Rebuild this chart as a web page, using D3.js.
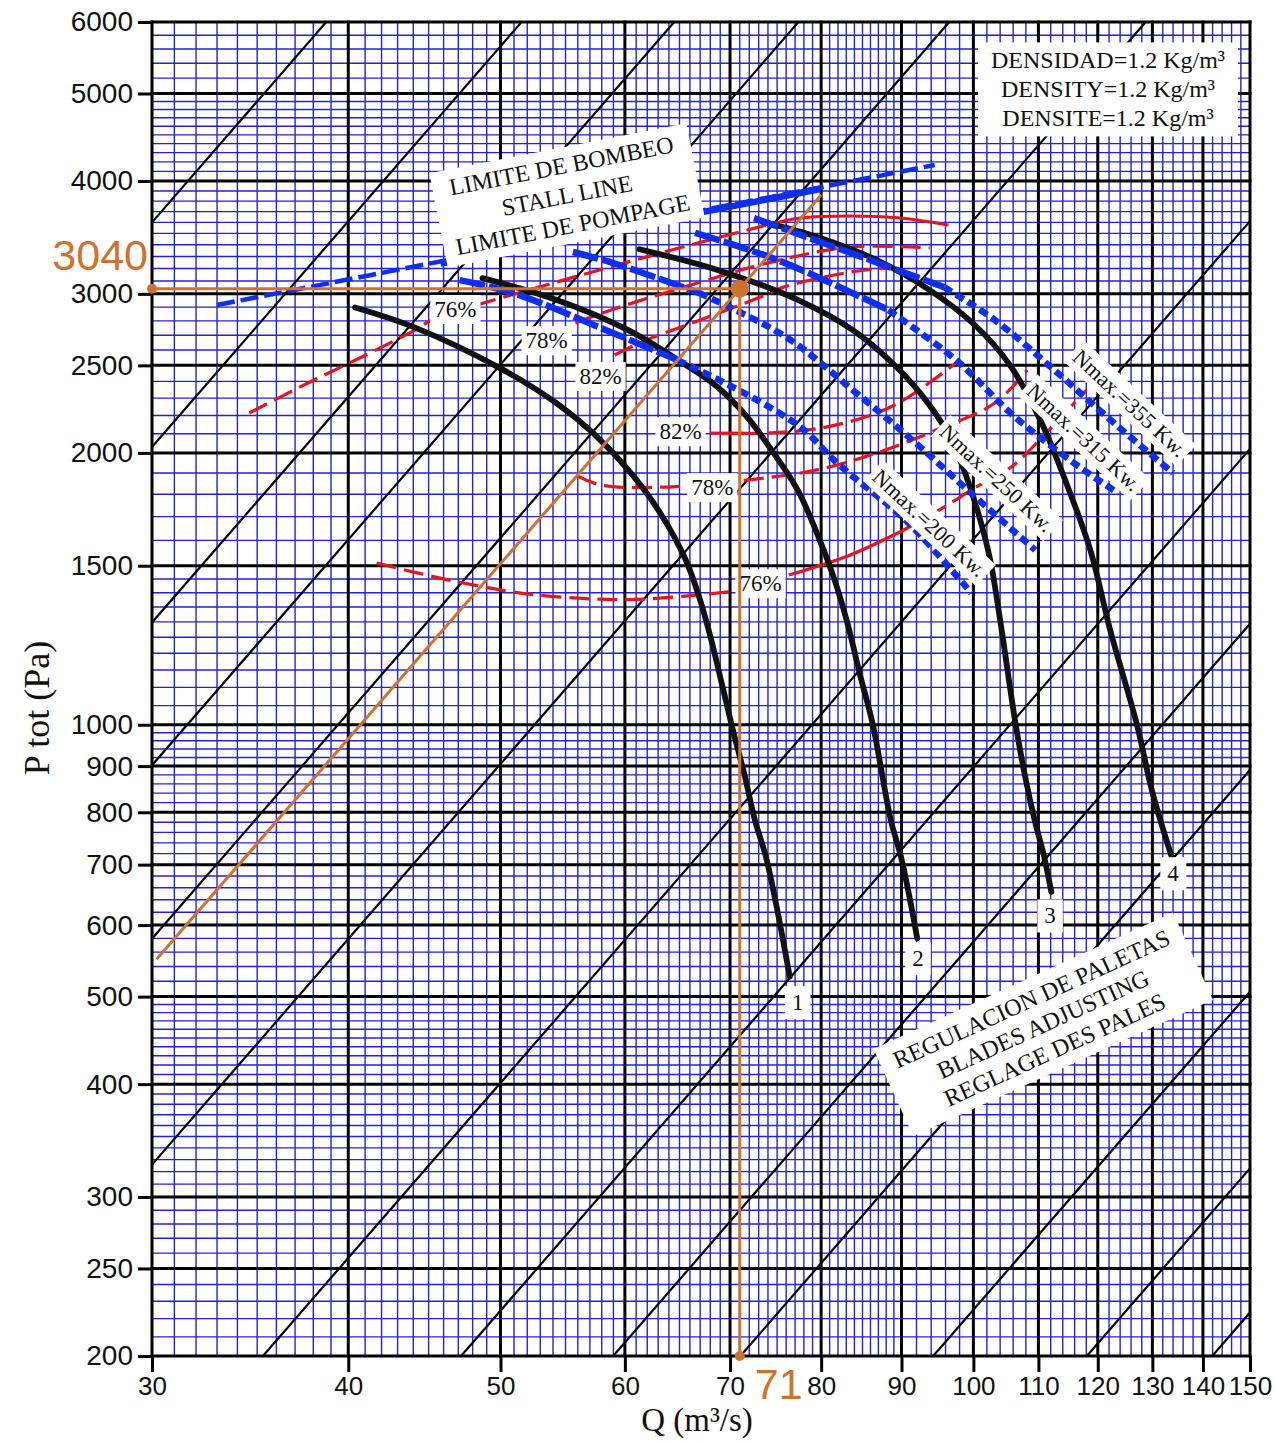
<!DOCTYPE html>
<html><head><meta charset="utf-8">
<script src="https://cdn.jsdelivr.net/npm/d3@7"></script>
<style>
html,body{margin:0;padding:0;background:#fff;}
svg{display:block;}
</style></head><body>
<svg id="chart" width="1275" height="1441"></svg>
<script>
// ---------------- DATA ----------------
const xTicks = [30,40,50,60,70,80,90,100,110,120,130,140,150];
const yTicks = [200,250,300,400,500,600,700,800,900,1000,1500,2000,2500,3000,4000,5000,6000];
const xMinorRanges = [[30,90,1],[90,150,2]];
const yMinorRanges = [[200,500,10],[500,1000,20],[1000,1500,50],[1500,5000,100],[5000,6000,200]];
// system resistance lines P = k * Q^2
const systemK = [4.0,2.256,1.442,1.002,0.644,0.362,0.1605,0.0898,0.0575,0.0396,0.0225,0.01434,0.00993];

// fan curves (blade settings 1..4)  [Q m3/s, P Pa]
const curve1 = [[40.4,2898],[44.0,2758],[50.0,2481],[54.3,2269],[57.3,2102],[60.3,1915],[63.2,1715],[65.6,1522],[67.0,1374],[68.1,1241],[69.2,1106],[70.3,986],[71.5,880],[72.6,784],[73.8,713],[75.0,625],[76.4,526]];
const curve2 = [[48.7,3123],[54.3,2954],[60.3,2735],[65.3,2515],[68.5,2377],[71.6,2203],[74.4,2014],[77.3,1819],[79.6,1622],[81.6,1446],[83.2,1290],[84.7,1135],[86.3,1000],[88.6,784],[89.9,716],[91.1,642],[92.1,580]];
const curve3 = [[61.3,3361],[68.8,3187],[77.3,2954],[83.8,2735],[89.3,2491],[93.6,2269],[96.7,2077],[98.9,1890],[100.8,1707],[102.5,1522],[104.0,1306],[106.4,1000],[108.0,868],[109.4,784],[110.9,716],[112.1,653]];
const curve4 = [[73.4,3604],[79.9,3460],[86.8,3269],[93.8,3029],[100.2,2771],[105.5,2502],[110.3,2175],[114.4,1866],[118.7,1561],[122.2,1273],[127.1,1000],[129.9,846],[133.8,712]];
const curveNames = ["1","2","3","4"];
const curveLabelPos = [[77.3,493],[92.2,551.5],[111.9,615],[134.0,685]];

// max power lines
const n355 = [[72.5,3640],[81.9,3372],[95.8,3052],[103.2,2806],[112.6,2470],[122.9,2158],[134.0,1900]];
const n315 = [[66.5,3504],[75.1,3269],[88.3,2879],[97.5,2534],[106.3,2191],[115.9,1949],[123.6,1805]];
const n250 = [[55.6,3338],[59.0,3245],[66.9,3007],[76.0,2687],[83.8,2347],[91.9,2051],[100.3,1787],[109.5,1561]];
const n200 = [[47.1,3107],[50.9,3007],[59.0,2714],[64.8,2534],[70.3,2365],[77.6,2136],[81.9,1949],[90.9,1673],[99.7,1399]];
const nmaxSplitQ = [95.8,88.3,66.9,64.8];
const nmaxNames = ["Nmax.=355 Kw.","Nmax.=315 Kw.","Nmax.=250 Kw.","Nmax.=200 Kw."];
const nmaxLabelPos = [[125.8,2271],[117.6,2082],[103.5,1876],[93.8,1673]];

// stall line
const stallDashed = [[33.0,2916],[94.5,4167]];
const stallSolid = [[45.8,3240],[79.9,3920]];

// efficiency curves
const eff76Upper = [[34.6,2214],[37.7,2390],[40.8,2554],[44.1,2735],[45.2,2806],[49.0,2938],[52.9,3052],[55.1,3115],[59.3,3228],[66.0,3398],[73.9,3576]];
const eff76UpperSolid = [[73.9,3576],[77.6,3640],[83.5,3659],[89.9,3640],[96.4,3576]];
const eff78Upper = [[55.8,2785],[58.8,2879],[63.6,3007],[67.7,3107],[73.9,3245],[83.5,3380],[93.8,3372]];
const eff82Upper = [[59.1,2567],[61.9,2666],[67.0,2806],[73.2,2976],[75.7,3052],[83.5,3171],[88.2,3204]];
const eff82LowerSolid = [[68.0,2103],[71.0,2103]];
const eff82Lower = [[71.0,2103],[73.8,2103],[80.0,2131],[86.8,2214],[90.9,2306],[97.5,2515]];
const eff78Lower = [[56.0,1885],[57.9,1843],[63.6,1833],[71.7,1866],[79.5,1915],[86.8,2000],[94.7,2120],[103.2,2271],[108.2,2470]];
const eff76LowerLeft = [[41.7,1510],[46.4,1446],[51.5,1399],[57.3,1378],[61.9,1378],[69.9,1403]];
const eff76LowerMid = [[76.3,1465],[83.5,1542],[90.3,1643]];
const eff76LowerRight = [[90.3,1643],[95.8,1742],[100.2,1829],[105.7,1929],[111.4,2109],[118.0,2347]];
const effLabels = ["76%","78%","82%","82%","78%","76%"];
const effLabelPos = [[46.8,2887],[53.5,2666],[57.9,2433],[65.1,2114],[68.2,1833],[73.2,1435]];

// operating point
const opPoint = [71,3040];
const opDiagRange = [30.2,80];

const densityLines = ["DENSIDAD=1.2 Kg/m³","DENSITY=1.2 Kg/m³","DENSITE=1.2 Kg/m³"];
const stallLines = ["LIMITE DE BOMBEO","STALL LINE","LIMITE DE POMPAGE"];
const bladeLines = ["REGULACION DE PALETAS","BLADES ADJUSTING","REGLAGE DES PALES"];

// ---------------- CHART ----------------
const W = 1275, H = 1441;
const L = 152, R = 1250, T = 22, B = 1356;
const svg = d3.select("#chart");
const x = d3.scaleLog().domain([30,150]).range([L,R]);
const y = d3.scaleLog().domain([200,6000]).range([B,T]);
const SERIF = "'Liberation Serif','Times New Roman',serif";
const SANS = "'Liberation Sans',Arial,sans-serif";
const BLUE_GRID = "#2323d6";
const BLUE = "#0e2ef2";
const RED = "#e8141c";
const ORANGE = "#d0712d";

svg.append("rect").attr("width",W).attr("height",H).attr("fill","#fff");
svg.append("defs").append("clipPath").attr("id","plot")
  .append("rect").attr("x",L).attr("y",T).attr("width",R-L).attr("height",B-T);

function expand(specs){
  const out = new Set();
  specs.forEach(([a,b,s])=>{ for(let v=a; v<=b+1e-9; v+=s) out.add(+v.toFixed(4)); });
  return Array.from(out);
}
const gGrid = svg.append("g");
gGrid.selectAll("line.vx").data(expand(xMinorRanges)).join("line")
  .attr("x1",d=>x(d)).attr("x2",d=>x(d)).attr("y1",T).attr("y2",B)
  .attr("stroke",BLUE_GRID).attr("stroke-width",1.4);
gGrid.selectAll("line.hy").data(expand(yMinorRanges)).join("line")
  .attr("y1",d=>y(d)).attr("y2",d=>y(d)).attr("x1",L).attr("x2",R)
  .attr("stroke",BLUE_GRID).attr("stroke-width",1.4);
gGrid.selectAll("line.mx").data(xTicks).join("line")
  .attr("x1",d=>x(d)).attr("x2",d=>x(d)).attr("y1",T-1.5).attr("y2",B+1.5)
  .attr("stroke","#000").attr("stroke-width",3);
gGrid.selectAll("line.my").data(yTicks).join("line")
  .attr("y1",d=>y(d)).attr("y2",d=>y(d)).attr("x1",L-1.5).attr("x2",R+1.5)
  .attr("stroke","#000").attr("stroke-width",3);

// axes
const yAxis = d3.axisLeft(y).tickValues(yTicks).tickFormat(d=>String(d)).tickSize(14).tickPadding(5);
const gy = svg.append("g").attr("transform",`translate(${L},0)`).call(yAxis);
const xAxis = d3.axisBottom(x).tickValues(xTicks).tickFormat(d=>String(d)).tickSize(16).tickPadding(5);
const gx = svg.append("g").attr("transform",`translate(0,${B})`).call(xAxis);
[gx,gy].forEach(g=>{
  g.select(".domain").remove();
  g.selectAll(".tick line").attr("stroke","#000").attr("stroke-width",3);
  g.selectAll(".tick text").attr("fill","#111").attr("font-family",SANS);
});
gy.selectAll(".tick text").attr("font-size",28);
gx.selectAll(".tick text").attr("font-size",26);

// diagonals
const plot = svg.append("g").attr("clip-path","url(#plot)");
plot.selectAll("line.diag").data(systemK).join("line")
  .each(function(k){
    const q0 = Math.max(30, Math.sqrt(200/k)), q1 = Math.min(150, Math.sqrt(6000/k));
    d3.select(this).attr("x1",x(q0)).attr("y1",y(k*q0*q0)).attr("x2",x(q1)).attr("y2",y(k*q1*q1));
  })
  .attr("stroke","#000").attr("stroke-width",2.2);

const smooth = d3.line().x(d=>x(d[0])).y(d=>y(d[1])).curve(d3.curveCatmullRom.alpha(0.5));
const straight = d3.line().x(d=>x(d[0])).y(d=>y(d[1]));

// efficiency curves
const gEff = plot.append("g").attr("fill","none").attr("stroke",RED).attr("stroke-width",3.2);
[eff76Upper,eff78Upper,eff82Upper,eff82Lower,eff78Lower,eff76LowerLeft,eff76LowerRight].forEach(s=>{
  gEff.append("path").attr("d",smooth(s)).attr("stroke-dasharray","20,8");
});
[eff76UpperSolid,eff82LowerSolid,eff76LowerMid].forEach(s=>{
  gEff.append("path").attr("d",smooth(s));
});

// fan curves
const gFan = plot.append("g").attr("fill","none").attr("stroke","#111").attr("stroke-width",5.8).attr("stroke-linecap","round");
[curve1,curve2,curve3,curve4].forEach(s=>gFan.append("path").attr("d",smooth(s)));

// Nmax lines
const gN = plot.append("g").attr("fill","none").attr("stroke",BLUE).attr("stroke-width",6.5);
[n355,n315,n250,n200].forEach((s,i)=>{
  const sp = nmaxSplitQ[i];
  const a = s.filter(d=>d[0]<=sp), b = s.filter(d=>d[0]>=sp);
  gN.append("path").attr("d",smooth(a)).attr("stroke-dasharray","26,4");
  gN.append("path").attr("d",smooth(b)).attr("stroke-dasharray","9,5");
});

// stall line
plot.append("path").attr("d",straight(stallDashed)).attr("fill","none").attr("stroke",BLUE)
  .attr("stroke-width",4.5).attr("stroke-dasharray","18,6");
plot.append("path").attr("d",straight(stallSolid)).attr("fill","none").attr("stroke",BLUE)
  .attr("stroke-width",6.5);

// label boxes
const gLab = svg.append("g");
function labelBox(cx, cy, angle, lines, fs, lh, px, py){
  const g = gLab.append("g").attr("transform",`translate(${cx},${cy}) rotate(${angle})`);
  const rect = g.append("rect").attr("fill","#fff");
  const t = g.append("text").attr("font-family",SERIF).attr("font-size",fs)
    .attr("text-anchor","middle").attr("fill","#111");
  const n = lines.length;
  lines.forEach((s,i)=>{
    t.append("tspan").attr("x",0).attr("y",(i-(n-1)/2)*lh).attr("dy","0.35em").text(s);
  });
  const bb = t.node().getBBox();
  rect.attr("x",bb.x-px).attr("y",bb.y-py).attr("width",bb.width+2*px).attr("height",bb.height+2*py);
}
effLabels.forEach((s,i)=>labelBox(x(effLabelPos[i][0]),y(effLabelPos[i][1]),0,[s],23,0,4,2));
curveNames.forEach((s,i)=>labelBox(x(curveLabelPos[i][0]),y(curveLabelPos[i][1]),0,[s],23,0,7,4));
nmaxNames.forEach((s,i)=>labelBox(x(nmaxLabelPos[i][0]),y(nmaxLabelPos[i][1]),43,[s],22,0,4,2));
labelBox(1108,89,0,densityLines,24,29,13,5);
labelBox(567,195,-11,stallLines,24,30,12,5);
labelBox(1043,1024,-24.5,bladeLines,24,28,14,7);

// axis titles
svg.append("text").attr("transform","translate(36,708) rotate(-90)")
  .attr("text-anchor","middle").attr("dy","0.35em").attr("font-family",SERIF)
  .attr("font-size",36).attr("fill","#111").text("P tot (Pa)");
svg.append("text").attr("x",697).attr("y",1431).attr("text-anchor","middle")
  .attr("font-family",SERIF).attr("font-size",33).attr("fill","#111").text("Q (m³/s)");

// operating point (orange)
const gO = svg.append("g").attr("stroke",ORANGE).attr("stroke-width",3).attr("fill","none");
const kOp = opPoint[1]/(opPoint[0]*opPoint[0]);
gO.append("line").attr("x1",x(30)).attr("y1",y(opPoint[1])).attr("x2",x(opPoint[0])).attr("y2",y(opPoint[1]));
gO.append("line").attr("x1",x(opPoint[0])).attr("y1",y(opPoint[1])).attr("x2",x(opPoint[0])).attr("y2",y(200));
gO.append("line").attr("x1",x(opDiagRange[0])).attr("y1",y(kOp*opDiagRange[0]**2))
  .attr("x2",x(opDiagRange[1])).attr("y2",y(kOp*opDiagRange[1]**2));
svg.append("circle").attr("cx",x(30)).attr("cy",y(opPoint[1])).attr("r",5).attr("fill",ORANGE);
svg.append("circle").attr("cx",x(opPoint[0])).attr("cy",y(200)).attr("r",5).attr("fill",ORANGE);
svg.append("circle").attr("cx",x(opPoint[0])).attr("cy",y(opPoint[1])).attr("r",9).attr("fill",ORANGE);
svg.append("text").attr("x",x(30)-4).attr("y",y(opPoint[1])-19).attr("text-anchor","end")
  .attr("font-family",SANS).attr("font-size",43).attr("fill",ORANGE).text(String(opPoint[1]));
svg.append("text").attr("x",x(opPoint[0])+15).attr("y",y(200)+43)
  .attr("font-family",SANS).attr("font-size",43).attr("fill",ORANGE).text(String(opPoint[0]));
</script>
</body></html>
